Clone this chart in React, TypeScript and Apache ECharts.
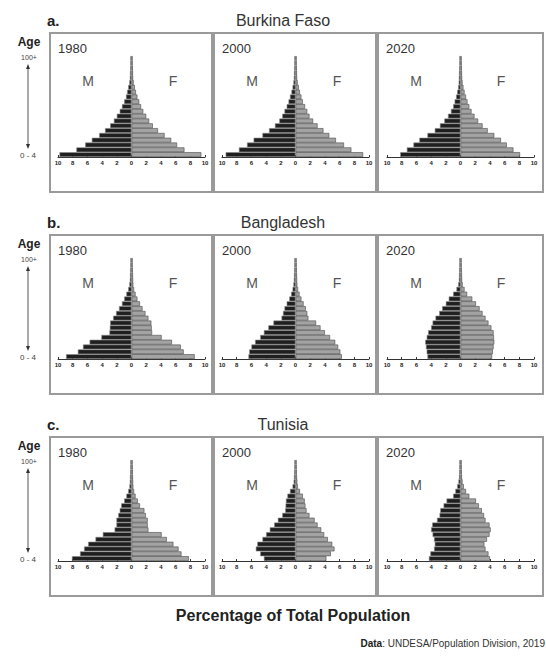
import React, { useEffect, useRef } from "react";
import * as echarts from "echarts";

const ageGroups = ["0-4","5-9","10-14","15-19","20-24","25-29","30-34","35-39","40-44","45-49","50-54","55-59","60-64","65-69","70-74","75-79","80-84","85-89","90-94","95-99","100+"];
const xTicks = [-10, -8, -6, -4, -2, 0, 2, 4, 6, 8, 10];
const countries = ["Burkina Faso", "Bangladesh", "Tunisia"];
const rowLetters = ["a.", "b.", "c."];
const years = ["1980", "2000", "2020"];

// Burkina Faso
const bf1980M = [9.8, 7.5, 6.3, 5.4, 4.4, 3.6, 2.9, 2.4, 2.0, 1.6, 1.3, 1.0, 0.75, 0.6, 0.45, 0.3, 0.22, 0.2, 0.18, 0.16, 0.15];
const bf1980F = [9.5, 7.2, 6.2, 5.4, 4.5, 3.6, 2.9, 2.4, 2.0, 1.6, 1.3, 1.05, 0.8, 0.6, 0.45, 0.3, 0.22, 0.2, 0.18, 0.16, 0.15];
const bf2000M = [9.5, 7.7, 6.6, 5.7, 4.5, 3.6, 2.8, 2.2, 1.8, 1.5, 1.2, 0.95, 0.75, 0.55, 0.4, 0.28, 0.22, 0.2, 0.18, 0.16, 0.15];
const bf2000F = [9.2, 7.6, 6.6, 5.5, 4.6, 3.8, 3.0, 2.4, 1.9, 1.6, 1.3, 1.0, 0.8, 0.6, 0.45, 0.3, 0.22, 0.2, 0.18, 0.16, 0.15];
const bf2020M = [8.2, 7.3, 6.4, 5.6, 4.5, 3.5, 2.8, 2.2, 1.7, 1.3, 1.0, 0.8, 0.6, 0.45, 0.32, 0.25, 0.22, 0.2, 0.18, 0.16, 0.15];
const bf2020F = [8.1, 7.2, 6.3, 5.5, 4.6, 3.7, 3.0, 2.4, 1.9, 1.5, 1.2, 0.95, 0.75, 0.55, 0.4, 0.28, 0.22, 0.2, 0.18, 0.16, 0.15];
// Bangladesh
const bd1980M = [8.9, 7.3, 6.6, 5.7, 4.1, 3.0, 2.95, 2.9, 2.5, 2.1, 1.7, 1.3, 1.0, 0.7, 0.45, 0.3, 0.22, 0.2, 0.18, 0.16, 0.15];
const bd1980F = [8.6, 7.1, 6.7, 5.5, 4.1, 2.8, 2.75, 2.7, 2.3, 1.9, 1.5, 1.15, 0.8, 0.55, 0.35, 0.25, 0.22, 0.2, 0.18, 0.16, 0.15];
const bd2000M = [6.4, 6.3, 6.0, 5.5, 4.8, 4.3, 3.7, 3.0, 1.9, 1.7, 1.5, 1.2, 0.85, 0.6, 0.4, 0.28, 0.22, 0.2, 0.18, 0.16, 0.15];
const bd2000F = [6.3, 6.1, 5.8, 5.4, 4.7, 4.0, 3.4, 2.8, 1.75, 1.6, 1.4, 1.1, 0.8, 0.55, 0.35, 0.25, 0.22, 0.2, 0.18, 0.16, 0.15];
const bd2020M = [4.5, 4.6, 4.7, 4.8, 4.6, 4.4, 4.0, 3.8, 3.4, 2.9, 2.5, 2.0, 1.6, 1.0, 0.55, 0.32, 0.22, 0.2, 0.18, 0.16, 0.15];
const bd2020F = [4.3, 4.4, 4.5, 4.6, 4.55, 4.5, 4.2, 3.8, 3.4, 3.0, 2.6, 2.1, 1.6, 0.9, 0.55, 0.3, 0.22, 0.2, 0.18, 0.16, 0.15];
// Tunisia
const tn1980M = [8.1, 7.0, 6.45, 5.9, 4.9, 3.9, 2.3, 2.05, 2.05, 1.8, 1.6, 1.4, 1.0, 0.7, 0.45, 0.28, 0.22, 0.2, 0.18, 0.16, 0.15];
const tn1980F = [7.8, 6.8, 6.4, 5.7, 4.8, 4.1, 2.3, 2.2, 2.2, 1.95, 1.75, 1.15, 0.85, 0.55, 0.35, 0.25, 0.22, 0.2, 0.18, 0.16, 0.15];
const tn2000M = [4.3, 4.8, 5.4, 5.2, 4.5, 4.0, 3.5, 2.9, 2.4, 1.8, 1.4, 1.35, 1.3, 1.1, 0.75, 0.4, 0.25, 0.2, 0.18, 0.16, 0.15];
const tn2000F = [4.2, 4.8, 5.3, 5.0, 4.4, 3.9, 3.5, 3.0, 2.6, 1.9, 1.5, 1.35, 1.25, 1.0, 0.6, 0.32, 0.25, 0.2, 0.18, 0.16, 0.15];
const tn2020M = [4.3, 4.1, 3.6, 3.5, 3.6, 3.8, 4.0, 3.85, 3.2, 2.85, 2.75, 2.3, 1.9, 1.0, 0.7, 0.45, 0.28, 0.2, 0.18, 0.16, 0.15];
const tn2020F = [4.0, 3.8, 3.4, 3.25, 3.6, 3.95, 4.1, 3.95, 3.4, 3.2, 2.9, 2.5, 2.1, 1.2, 0.75, 0.45, 0.28, 0.2, 0.18, 0.16, 0.15];

const panelData = [
  [[bf1980M, bf1980F], [bf2000M, bf2000F], [bf2020M, bf2020F]],
  [[bd1980M, bd1980F], [bd2000M, bd2000F], [bd2020M, bd2020F]],
  [[tn1980M, tn1980F], [tn2000M, tn2000F], [tn2020M, tn2020F]],
];

const FONT = "Liberation Sans, Arial, sans-serif";

export default function App() {
  const ref = useRef<HTMLDivElement>(null);
  useEffect(() => {
    if (!ref.current) return;
    const chart = echarts.init(ref.current, undefined, { renderer: "svg" });
    const grids: any[] = [];
    const xAxes: any[] = [];
    const yAxes: any[] = [];
    const series: any[] = [];
    const graphics: any[] = [];
    const boxLefts = [50, 214, 378];
    const boxWidths = [162, 162, 165];
    const centers = [131.5, 295.5, 460.5];
    const rowStep = 202;

    for (let r = 0; r < 3; r++) {
      const off = r * rowStep;
      // row labels
      graphics.push({ type: "text", x: 47, y: 20 + off, style: { text: rowLetters[r], font: `bold 15px ${FONT}`, fill: "#222", align: "left", verticalAlign: "middle" } });
      graphics.push({ type: "text", x: 283, y: 20 + off, style: { text: countries[r], font: `16px ${FONT}`, fill: "#333", align: "center", verticalAlign: "middle" } });
      graphics.push({ type: "text", x: 29, y: 42 + off, style: { text: "Age", font: `bold 12px ${FONT}`, fill: "#222", align: "center", verticalAlign: "middle" } });
      graphics.push({ type: "text", x: 29, y: 57 + off, style: { text: "100+", font: `7px ${FONT}`, fill: "#444", align: "center", verticalAlign: "middle" } });
      graphics.push({ type: "text", x: 28, y: 155 + off, style: { text: "0 - 4", font: `8px ${FONT}`, fill: "#444", align: "center", verticalAlign: "middle" } });
      graphics.push({ type: "line", shape: { x1: 28, y1: 67 + off, x2: 28, y2: 146 + off }, style: { stroke: "#555", lineWidth: 1 } });
      graphics.push({ type: "polygon", shape: { points: [[28, 64 + off], [26, 69 + off], [30, 69 + off]] }, style: { fill: "#333" } });
      graphics.push({ type: "polygon", shape: { points: [[28, 149 + off], [26, 144 + off], [30, 144 + off]] }, style: { fill: "#333" } });

      for (let c = 0; c < 3; c++) {
        const idx = r * 3 + c;
        const bl = boxLefts[c];
        graphics.push({ type: "rect", shape: { x: bl, y: 33 + off, width: boxWidths[c], height: 159 }, style: { fill: "none", stroke: "#9a9a9a", lineWidth: 2 } });
        graphics.push({ type: "text", x: bl + 8, y: 48 + off, style: { text: years[c], font: `13px ${FONT}`, fill: "#333", align: "left", verticalAlign: "middle" } });
        graphics.push({ type: "text", x: bl + 38, y: 81 + off, style: { text: "M", font: `14px ${FONT}`, fill: "#555", align: "center", verticalAlign: "middle" } });
        graphics.push({ type: "text", x: bl + 123, y: 81 + off, style: { text: "F", font: `14px ${FONT}`, fill: "#555", align: "center", verticalAlign: "middle" } });

        grids.push({ left: centers[c] - 73.5, width: 147, top: 56 + off, height: 101 });
        xAxes.push({
          type: "value", gridIndex: idx, min: -10, max: 10, interval: 2,
          axisLine: { show: true, lineStyle: { color: "#333", width: 1 } },
          axisTick: { show: true, inside: true, length: 2, lineStyle: { color: "#333" } },
          splitLine: { show: false },
          axisLabel: { show: true, margin: 3, fontSize: 6, fontWeight: "bold", color: "#222", fontFamily: FONT, formatter: (v: number) => String(Math.abs(v)) },
        });
        yAxes.push({ type: "category", gridIndex: idx, data: ageGroups, show: false, axisLine: { show: false }, axisTick: { show: false }, axisLabel: { show: false } });
        const [m, f] = panelData[r][c];
        series.push({
          type: "bar", name: "M", xAxisIndex: idx, yAxisIndex: idx, stack: "p" + idx,
          data: m.map((v) => -v), barCategoryGap: "0%",
          itemStyle: { color: "#1f1f1f", borderColor: "#8a8a8a", borderWidth: 0.6 },
        });
        series.push({
          type: "bar", name: "F", xAxisIndex: idx, yAxisIndex: idx, stack: "p" + idx,
          data: f, barCategoryGap: "0%",
          itemStyle: { color: "#a3a3a3", borderColor: "#4a4a4a", borderWidth: 0.6 },
        });
      }
    }

    graphics.push({ type: "text", x: 293, y: 615, style: { text: "Percentage of Total Population", font: `bold 16px ${FONT}`, fill: "#222", align: "center", verticalAlign: "middle" } });
    graphics.push({
      type: "text", x: 545, y: 643,
      style: {
        text: "{b|Data}: UNDESA/Population Division, 2019",
        font: `10px ${FONT}`, fill: "#333", align: "right", verticalAlign: "middle",
        rich: { b: { font: `bold 10px ${FONT}`, fill: "#222" } },
      },
    });

    chart.setOption({
      animation: false,
      backgroundColor: "#ffffff",
      grid: grids,
      xAxis: xAxes,
      yAxis: yAxes,
      series,
      graphic: graphics,
    });
    return () => chart.dispose();
  }, []);
  return <div ref={ref} style={{ position: "fixed", left: 0, top: 0, width: 546, height: 663 }} />;
}
